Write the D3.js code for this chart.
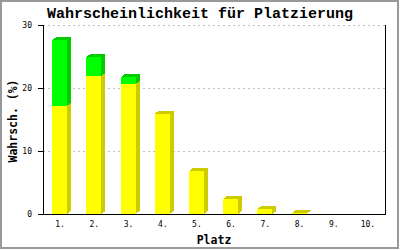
<!DOCTYPE html>
<html><head><meta charset="utf-8">
<script src="https://cdn.jsdelivr.net/npm/d3@7"></script>
<style>body{margin:0;background:#fff}svg{display:block}</style>
</head><body>
<script>
const categories = ["1.","2.","3.","4.","5.","6.","7.","8.","9.","10."];
const baseValues = [17.2, 21.9, 20.6, 15.9, 6.8, 2.4, 0.8, 0.1, 0, 0];
const extraValues = [10.4, 3.0, 1.1, 0, 0, 0, 0, 0, 0, 0];
const yTicks = [0, 10, 20, 30];

const W = 400, H = 250;
const svg = d3.select("body").append("svg").attr("width", W).attr("height", H);
svg.append("rect").attr("x",1).attr("y",1).attr("width",397).attr("height",247)
  .attr("fill","#fff").attr("stroke","#999").attr("stroke-width",2);

const L = 43, R = 385, T = 25, B = 214;
const x = d3.scaleBand().domain(categories).range([L, R]);
const y = d3.scaleLinear().domain([0, 30]).range([B, T]);

// grid
svg.append("g").selectAll("line").data(yTicks.filter(d => d > 0)).join("line")
  .attr("x1", L).attr("x2", R).attr("y1", d => y(d) + 0.5).attr("y2", d => y(d) + 0.5)
  .attr("stroke", "#c0c0c0").attr("stroke-dasharray", "2,3");

const bw = 15, dx = 4, dy = 3;
const g = svg.append("g").attr("shape-rendering", "crispEdges");
function seg(cx, v0, v1, front, dark, top) {
  const x0 = cx - bw / 2, x1 = cx + bw / 2;
  const yb = y(v0), yt = y(v1);
  g.append("rect").attr("x", x0).attr("y", yt).attr("width", bw).attr("height", Math.max(0, yb - yt)).attr("fill", front);
  g.append("polygon").attr("points", [[x1, yb], [x1, yt], [x1 + dx, yt - dy], [x1 + dx, yb - dy]].map(p => p.join(",")).join(" ")).attr("fill", dark);
  if (top) g.append("polygon").attr("points", [[x0, yt], [x0 + dx, yt - dy], [x1 + dx, yt - dy], [x1, yt]].map(p => p.join(",")).join(" ")).attr("fill", dark);
}
categories.forEach((c, i) => {
  const b = baseValues[i], e = extraValues[i];
  if (b + e <= 0) return;
  const cx = x(c) + x.bandwidth() / 2 - 0.5;
  seg(cx, 0, b, "#ffff00", "#cccc00", e <= 0);
  if (e > 0) seg(cx, b, b + e, "#00ff00", "#00cc00", true);
});

// axes
const ax = svg.append("g").attr("stroke", "#000").attr("shape-rendering", "crispEdges");
ax.append("line").attr("x1", L + 0.5).attr("x2", L + 0.5).attr("y1", T).attr("y2", B);
ax.append("line").attr("x1", R + 0.5).attr("x2", R + 0.5).attr("y1", T).attr("y2", B);
ax.append("line").attr("x1", 38).attr("x2", R + 1).attr("y1", B + 0.5).attr("y2", B + 0.5);
ax.selectAll(".t").data(yTicks).join("line")
  .attr("x1", 38).attr("x2", L).attr("y1", d => y(d) + 0.5).attr("y2", d => y(d) + 0.5);

svg.append("g").selectAll("text").data(yTicks).join("text")
  .attr("x", 32).attr("y", d => y(d) + 3).attr("text-anchor", "end")
  .attr("font-family", "DejaVu Sans Mono").attr("font-size", 8).text(d => d);

svg.append("g").selectAll("text").data(categories).join("text")
  .attr("x", d => x(d) + x.bandwidth() / 2).attr("y", 227).attr("text-anchor", "middle")
  .attr("font-family", "DejaVu Sans Mono").attr("font-size", 8).text(d => d);

svg.append("text").attr("x", 200).attr("y", 18).attr("text-anchor", "middle")
  .attr("font-family", "Liberation Mono").attr("font-weight", "bold").attr("font-size", 15)
  .text("Wahrscheinlichkeit für Platzierung");
svg.append("text").attr("x", 214).attr("y", 244).attr("text-anchor", "middle")
  .attr("font-family", "DejaVu Sans Mono").attr("font-weight", "bold").attr("font-size", 11.5)
  .text("Platz");
svg.append("text").attr("transform", "translate(17,121) rotate(-90)").attr("text-anchor", "middle")
  .attr("font-family", "DejaVu Sans Mono").attr("font-weight", "bold").attr("font-size", 11.5)
  .text("Wahrsch. (%)");
</script>
</body></html>
